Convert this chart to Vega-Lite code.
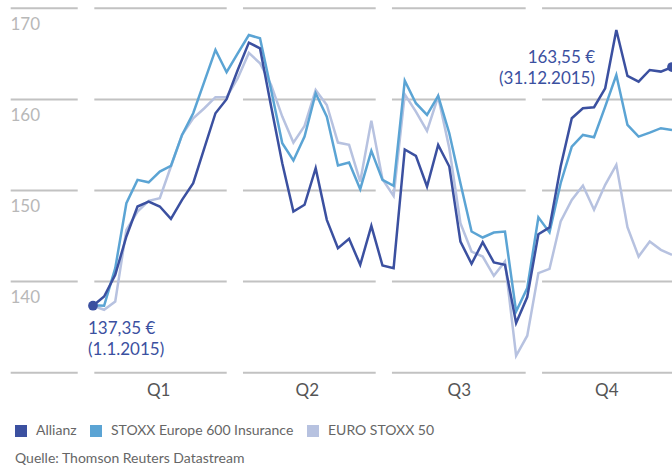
{
  "$schema": "https://vega.github.io/schema/vega-lite/v6.json",
  "width": 672,
  "height": 467,
  "padding": 0,
  "autosize": {"type": "none"},
  "background": "white",
  "config": {"view": {"stroke": null}, "font": "Lato"},
  "title": {"text": "Quelle: Thomson Reuters Datastream", "orient": "bottom", "anchor": "start", "frame": "group", "fontSize": 14, "fontWeight": "normal", "color": "#666666", "font": "Lato", "baseline": "alphabetic", "offset": -4, "dx": 15},
  "datasets": {
    "grid": [
      {"y": 130, "x1": -7.39, "x2": -1.37}, {"y": 130, "x1": 0.12, "x2": 12.01}, {"y": 130, "x1": 13.47, "x2": 25.39}, {"y": 130, "x1": 26.85, "x2": 38.86}, {"y": 130, "x1": 40.33, "x2": 52.5},
      {"y": 140, "x1": -7.39, "x2": -1.37}, {"y": 140, "x1": 0.12, "x2": 12.01}, {"y": 140, "x1": 13.47, "x2": 25.39}, {"y": 140, "x1": 26.85, "x2": 38.86}, {"y": 140, "x1": 40.33, "x2": 52.5},
      {"y": 150, "x1": -7.39, "x2": -1.37}, {"y": 150, "x1": 0.12, "x2": 12.01}, {"y": 150, "x1": 13.47, "x2": 25.39}, {"y": 150, "x1": 26.85, "x2": 38.86}, {"y": 150, "x1": 40.33, "x2": 52.5},
      {"y": 160, "x1": -7.39, "x2": -1.37}, {"y": 160, "x1": 0.12, "x2": 12.01}, {"y": 160, "x1": 13.47, "x2": 25.39}, {"y": 160, "x1": 26.85, "x2": 38.86}, {"y": 160, "x1": 40.33, "x2": 52.5},
      {"y": 170, "x1": -7.39, "x2": -1.37}, {"y": 170, "x1": 0.12, "x2": 12.01}, {"y": 170, "x1": 13.47, "x2": 25.39}, {"y": 170, "x1": 26.85, "x2": 38.86}, {"y": 170, "x1": 40.33, "x2": 52.5}
    ],
    "series": [
      {"i": 0, "Allianz": 137.35, "STOXX Europe 600 Insurance": 137.4, "EURO STOXX 50": 137.35},
      {"i": 1, "Allianz": 138.37, "STOXX Europe 600 Insurance": 137.35, "EURO STOXX 50": 136.91},
      {"i": 2, "Allianz": 140.75, "STOXX Europe 600 Insurance": 141.48, "EURO STOXX 50": 137.82},
      {"i": 3, "Allianz": 144.95, "STOXX Europe 600 Insurance": 148.6, "EURO STOXX 50": 145.68},
      {"i": 4, "Allianz": 148.24, "STOXX Europe 600 Insurance": 151.17, "EURO STOXX 50": 147.69},
      {"i": 5, "Allianz": 148.79, "STOXX Europe 600 Insurance": 150.9, "EURO STOXX 50": 148.86},
      {"i": 6, "Allianz": 148.24, "STOXX Europe 600 Insurance": 152.08, "EURO STOXX 50": 149.16},
      {"i": 7, "Allianz": 146.89, "STOXX Europe 600 Insurance": 152.7, "EURO STOXX 50": 152.63},
      {"i": 8, "Allianz": 148.97, "STOXX Europe 600 Insurance": 156.1, "EURO STOXX 50": 156.1},
      {"i": 9, "Allianz": 150.8, "STOXX Europe 600 Insurance": 158.48, "EURO STOXX 50": 157.93},
      {"i": 10, "Allianz": 154.64, "STOXX Europe 600 Insurance": 161.95, "EURO STOXX 50": 159.03},
      {"i": 11, "Allianz": 158.48, "STOXX Europe 600 Insurance": 165.43, "EURO STOXX 50": 160.24},
      {"i": 12, "Allianz": 160.02, "STOXX Europe 600 Insurance": 162.98, "EURO STOXX 50": 160.24},
      {"i": 13, "Allianz": 163.23, "STOXX Europe 600 Insurance": 165.06, "EURO STOXX 50": 162.32},
      {"i": 14, "Allianz": 166.23, "STOXX Europe 600 Insurance": 167.07, "EURO STOXX 50": 165.1},
      {"i": 15, "Allianz": 165.61, "STOXX Europe 600 Insurance": 166.71, "EURO STOXX 50": 163.97},
      {"i": 16, "Allianz": 159.21, "STOXX Europe 600 Insurance": 161.04, "EURO STOXX 50": 161.59},
      {"i": 17, "Allianz": 153.0, "STOXX Europe 600 Insurance": 155.19, "EURO STOXX 50": 158.11},
      {"i": 18, "Allianz": 147.69, "STOXX Europe 600 Insurance": 153.29, "EURO STOXX 50": 155.26},
      {"i": 19, "Allianz": 148.43, "STOXX Europe 600 Insurance": 155.92, "EURO STOXX 50": 157.09},
      {"i": 20, "Allianz": 152.45, "STOXX Europe 600 Insurance": 160.67, "EURO STOXX 50": 161.04},
      {"i": 21, "Allianz": 146.78, "STOXX Europe 600 Insurance": 158.11, "EURO STOXX 50": 159.39},
      {"i": 22, "Allianz": 143.67, "STOXX Europe 600 Insurance": 152.74, "EURO STOXX 50": 155.26},
      {"i": 23, "Allianz": 144.7, "STOXX Europe 600 Insurance": 153.07, "EURO STOXX 50": 155.01},
      {"i": 24, "Allianz": 141.84, "STOXX Europe 600 Insurance": 150.15, "EURO STOXX 50": 150.98},
      {"i": 25, "Allianz": 146.12, "STOXX Europe 600 Insurance": 154.35, "EURO STOXX 50": 157.67},
      {"i": 26, "Allianz": 141.77, "STOXX Europe 600 Insurance": 151.17, "EURO STOXX 50": 151.24},
      {"i": 27, "Allianz": 141.48, "STOXX Europe 600 Insurance": 150.51, "EURO STOXX 50": 149.41},
      {"i": 28, "Allianz": 154.5, "STOXX Europe 600 Insurance": 162.06, "EURO STOXX 50": 160.55},
      {"i": 29, "Allianz": 153.8, "STOXX Europe 600 Insurance": 159.58, "EURO STOXX 50": 158.66},
      {"i": 30, "Allianz": 150.44, "STOXX Europe 600 Insurance": 158.3, "EURO STOXX 50": 156.54},
      {"i": 31, "Allianz": 155.01, "STOXX Europe 600 Insurance": 160.38, "EURO STOXX 50": 160.3},
      {"i": 32, "Allianz": 152.63, "STOXX Europe 600 Insurance": 156.29, "EURO STOXX 50": 154.64},
      {"i": 33, "Allianz": 144.4, "STOXX Europe 600 Insurance": 150.8, "EURO STOXX 50": 146.42},
      {"i": 34, "Allianz": 141.95, "STOXX Europe 600 Insurance": 145.5, "EURO STOXX 50": 143.3},
      {"i": 35, "Allianz": 144.33, "STOXX Europe 600 Insurance": 144.84, "EURO STOXX 50": 142.75},
      {"i": 36, "Allianz": 142.1, "STOXX Europe 600 Insurance": 145.39, "EURO STOXX 50": 140.64},
      {"i": 37, "Allianz": 141.84, "STOXX Europe 600 Insurance": 145.5, "EURO STOXX 50": 142.21},
      {"i": 38, "Allianz": 135.45, "STOXX Europe 600 Insurance": 136.72, "EURO STOXX 50": 131.86},
      {"i": 39, "Allianz": 138.3, "STOXX Europe 600 Insurance": 139.29, "EURO STOXX 50": 134.06},
      {"i": 40, "Allianz": 145.2, "STOXX Europe 600 Insurance": 147.05, "EURO STOXX 50": 140.93},
      {"i": 41, "Allianz": 145.95, "STOXX Europe 600 Insurance": 145.4, "EURO STOXX 50": 141.4},
      {"i": 42, "Allianz": 152.63, "STOXX Europe 600 Insurance": 150.8, "EURO STOXX 50": 146.6},
      {"i": 43, "Allianz": 157.93, "STOXX Europe 600 Insurance": 154.82, "EURO STOXX 50": 148.97},
      {"i": 44, "Allianz": 159.03, "STOXX Europe 600 Insurance": 156.1, "EURO STOXX 50": 150.54},
      {"i": 45, "Allianz": 159.14, "STOXX Europe 600 Insurance": 155.85, "EURO STOXX 50": 147.88},
      {"i": 46, "Allianz": 161.22, "STOXX Europe 600 Insurance": 159.21, "EURO STOXX 50": 150.62},
      {"i": 47, "Allianz": 167.62, "STOXX Europe 600 Insurance": 162.68, "EURO STOXX 50": 152.81},
      {"i": 48, "Allianz": 162.57, "STOXX Europe 600 Insurance": 157.2, "EURO STOXX 50": 145.98},
      {"i": 49, "Allianz": 161.95, "STOXX Europe 600 Insurance": 155.92, "EURO STOXX 50": 142.75},
      {"i": 50, "Allianz": 163.23, "STOXX Europe 600 Insurance": 156.36, "EURO STOXX 50": 144.4},
      {"i": 51, "Allianz": 163.05, "STOXX Europe 600 Insurance": 156.84, "EURO STOXX 50": 143.49},
      {"i": 52, "Allianz": 163.55, "STOXX Europe 600 Insurance": 156.65, "EURO STOXX 50": 142.94}
    ]
  },
  "layer": [
    {
      "data": {"name": "grid"},
      "mark": {"type": "rule", "color": "#c2c2c2", "strokeWidth": 2},
      "encoding": {
        "x": {"field": "x1", "type": "quantitative", "scale": {"domain": [-8.35, 52], "nice": false, "zero": false},
          "axis": {"orient": "bottom", "values": [5.85, 19.2, 32.85, 46.1], "labelExpr": "datum.value < 10 ? 'Q1' : datum.value < 25 ? 'Q2' : datum.value < 40 ? 'Q3' : 'Q4'", "domain": false, "ticks": false, "tickSize": 0, "grid": false, "labelPadding": -72, "labelBaseline": "alphabetic", "labelFontSize": 17, "labelColor": "#555555", "labelFont": "Lato", "labelOverlap": false, "labelFlush": false, "title": null}},
        "x2": {"field": "x2"},
        "y": {"field": "y", "type": "quantitative", "scale": {"domain": [119.65, 170.91], "nice": false, "zero": false},
          "axis": {"orient": "left", "values": [140, 150, 160, 170], "domain": false, "ticks": false, "tickSize": 0, "grid": false, "labelAlign": "left", "labelBaseline": "alphabetic", "labelPadding": -10, "labelOffset": 21, "labelFontSize": 17, "labelColor": "#b8b8b8", "labelFont": "Lato", "title": null}}
      }
    },
    {
      "data": {"name": "series"},
      "transform": [{"fold": ["EURO STOXX 50", "STOXX Europe 600 Insurance", "Allianz"], "as": ["series", "value"]}],
      "mark": {"type": "line", "strokeWidth": 2.5, "strokeJoin": "miter"},
      "encoding": {
        "x": {"field": "i", "type": "quantitative"},
        "y": {"field": "value", "type": "quantitative"},
        "color": {"field": "series", "type": "nominal",
          "scale": {"domain": ["Allianz", "STOXX Europe 600 Insurance", "EURO STOXX 50"], "range": ["#3b50a0", "#5ba4d4", "#b7c2e0"]},
          "legend": {"orient": "none", "legendX": 14, "legendY": 424, "direction": "horizontal", "title": null, "symbolType": "square", "symbolSize": 144, "symbolStrokeWidth": 0, "labelFontSize": 14, "labelColor": "#666666", "labelFont": "Lato", "labelOffset": 8, "labelLimit": 0, "columnPadding": 12, "padding": 0,
            "encode": {"symbols": {"update": {"fill": {"scale": "color", "field": "value"}, "stroke": {"value": "transparent"}}}}}}
      }
    },
    {
      "data": {"name": "series"},
      "transform": [{"filter": "datum.i == 0 || datum.i == 52"}],
      "mark": {"type": "point", "filled": true, "size": 95, "color": "#3b50a0", "opacity": 1},
      "encoding": {
        "x": {"field": "i", "type": "quantitative"},
        "y": {"field": "Allianz", "type": "quantitative"}
      }
    },
    {
      "data": {"values": [{"i": 0, "v": 137.35}]},
      "mark": {"type": "text", "text": ["137,35 €", "(1.1.2015)"], "align": "left", "baseline": "alphabetic", "dx": -5, "dy": 28, "lineHeight": 21, "fontSize": 17, "font": "Lato", "color": "#3b50a0"},
      "encoding": {
        "x": {"field": "i", "type": "quantitative"},
        "y": {"field": "v", "type": "quantitative"}
      }
    },
    {
      "data": {"values": [{"i": 52, "v": 163.55}]},
      "mark": {"type": "text", "text": ["163,55 €", "(31.12.2015)"], "align": "right", "baseline": "alphabetic", "dx": -77, "dy": -4, "lineHeight": 21, "fontSize": 17, "font": "Lato", "color": "#3b50a0"},
      "encoding": {
        "x": {"field": "i", "type": "quantitative"},
        "y": {"field": "v", "type": "quantitative"}
      }
    }
  ]
}
